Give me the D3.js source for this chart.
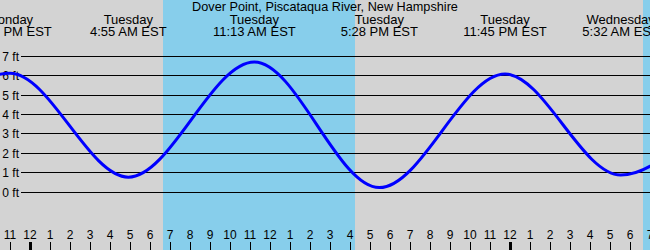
<!DOCTYPE html>
<html>
<head>
<meta charset="utf-8">
<script src="https://cdn.jsdelivr.net/npm/d3@7"></script>
<style>
html,body{margin:0;padding:0;background:#D3D3D3;}
svg{display:block;}
text{font-family:"Liberation Sans",Arial,sans-serif;fill:#000;}
</style>
</head>
<body>
<svg id="chart" width="650" height="250"></svg>
<script>
// ---- data (hours relative to Tuesday 00:00 EST) ----
const title = "Dover Point, Piscataqua River, New Hampshire";
const tideHours   = [-7.3, -1.0, 4.917, 11.217, 17.467, 23.75, 29.533, 35.8];
const tideHeights = [0.4, 6.1, 0.74, 6.68, 0.2, 6.06, 0.85, 6.7];
const labelHours  = [-1.0, 4.917, 11.217, 17.467, 23.75, 29.533];
const labelDays   = ["Monday", "Tuesday", "Tuesday", "Tuesday", "Tuesday", "Wednesday"];
const labelTimes  = ["11:00 PM EST", "4:55 AM EST", "11:13 AM EST", "5:28 PM EST", "11:45 PM EST", "5:32 AM EST"];
const sunriseHours = [6.65, 30.65];
const sunsetHours  = [16.25, 40.25];
const feetTicks = [0, 1, 2, 3, 4, 5, 6, 7];
const hourTicks = d3.range(-1, 32);
const hourTickLabels = ["11","12","1","2","3","4","5","6","7","8","9","10","11","12","1","2","3","4","5","6","7","8","9","10","11","12","1","2","3","4","5","6","7"];

const W = 650, H = 250;
const svg = d3.select("#chart");
const x = d3.scaleLinear().domain([-1.5, 31]).range([0, W]);
const y = d3.scaleLinear().domain([0, 7]).range([191.5, 55.8]);

// background
svg.append("rect").attr("x",0).attr("y",0).attr("width",W).attr("height",H).attr("fill","#D3D3D3");
// daylight bands
svg.selectAll("rect.day").data(sunriseHours).join("rect")
  .attr("class","day")
  .attr("x", d => x(d))
  .attr("y", 0)
  .attr("width", (d,i) => Math.min(W, x(sunsetHours[i])) - x(d))
  .attr("height", H)
  .attr("fill", "#87CEEB");

// grid lines
svg.selectAll("line.grid").data(feetTicks).join("line")
  .attr("class","grid")
  .attr("x1", 21).attr("x2", W)
  .attr("y1", d => Math.round(y(d)) + 0.5)
  .attr("y2", d => Math.round(y(d)) + 0.5)
  .attr("stroke", "#000").attr("stroke-width", 1);
svg.selectAll("text.ft").data(feetTicks).join("text")
  .attr("class","ft")
  .attr("x", 19)
  .attr("y", d => Math.round(y(d)) + 4.5)
  .attr("text-anchor","end")
  .attr("font-size", 12)
  .text(d => d + " ft");

// tide curve
const clip = svg.append("clipPath").attr("id","clip").append("rect")
  .attr("x",0).attr("y",0).attr("width",W).attr("height",H);
const line = d3.line().x(d => x(d[0])).y(d => y(d[1])).curve(d3.curveMonotoneX);
svg.append("path")
  .datum(tideHours.map((h,i) => [h, tideHeights[i]]))
  .attr("clip-path","url(#clip)")
  .attr("d", line)
  .attr("fill","none")
  .attr("stroke","#0000FF")
  .attr("stroke-width", 3);

// hour ticks
svg.selectAll("line.tick").data(hourTicks).join("line")
  .attr("class","tick")
  .attr("x1", d => Math.round(x(d)) + 0.5).attr("x2", d => Math.round(x(d)) + 0.5)
  .attr("y1", 242).attr("y2", H)
  .attr("stroke","#000")
  .attr("stroke-width", d => (d % 24 === 0) ? 3 : 1);
svg.selectAll("text.hr").data(hourTicks).join("text")
  .attr("class","hr")
  .attr("x", d => x(d))
  .attr("y", 239)
  .attr("text-anchor","middle")
  .attr("font-size", 12)
  .text((d,i) => hourTickLabels[i]);

// header
svg.append("text").attr("x", W/2).attr("y", 11).attr("text-anchor","middle")
  .attr("font-size", 12.7).text(title);
const lab = svg.selectAll("g.lab").data(labelHours).join("g").attr("class","lab");
lab.append("text").attr("x", d => x(d)).attr("y", 24).attr("text-anchor","middle")
  .attr("font-size", 13).text((d,i) => labelDays[i]);
lab.append("text").attr("x", d => x(d)).attr("y", 36).attr("text-anchor","middle")
  .attr("font-size", 13).text((d,i) => labelTimes[i]);
</script>
</body>
</html>
